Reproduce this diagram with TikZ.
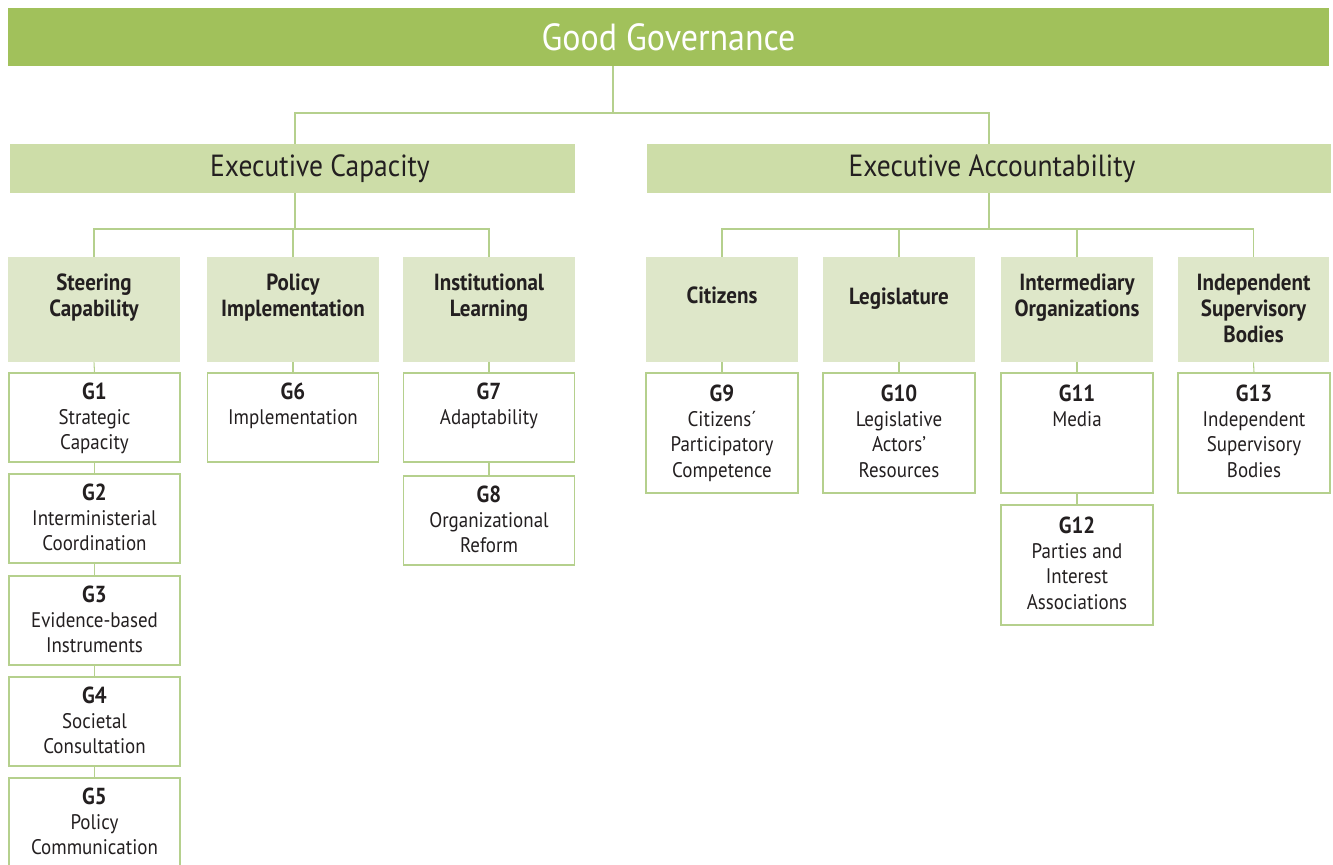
\documentclass[tikz,border=0pt]{standalone}
\usepackage{fontspec}
\setmainfont[FakeStretch=0.9]{PT Sans}
\usetikzlibrary{positioning}

\definecolor{topgreen}{HTML}{A1C15B}
\definecolor{dimgreen}{HTML}{CDDDA8}
\definecolor{areagreen}{HTML}{DEE7C9}
\definecolor{linegreen}{HTML}{B5D08D}
\definecolor{inkgray}{HTML}{231F20}

\newcommand{\gnum}[1]{\textbf{\fontsize{13.2}{14.4}\selectfont #1}}

\tikzset{
  headbar/.style={fill=topgreen, inner sep=0pt, minimum width=26.42cm, minimum height=1.16cm,
    text=white, font=\fontsize{21.5}{24}\selectfont},
  dimbar/.style={fill=dimgreen, inner sep=0pt, minimum height=0.98cm},
  dimtext/.style={inner sep=0pt, text=inkgray, font=\fontsize{17.4}{20}\selectfont},
  areabox/.style={fill=areagreen, inner sep=0pt, minimum height=2.1cm},
  areatext/.style={align=center, inner sep=0pt, text=inkgray,
    font=\bfseries\fontsize{13.3}{14.8}\selectfont},
  indbox/.style={draw=linegreen, line width=0.6pt, fill=white, inner sep=0pt},
  indtext/.style={align=center, inner sep=0pt, anchor=north, text=inkgray, font=\fontsize{12}{14.4}\selectfont},
  conn/.style={draw=linegreen, line width=0.6pt}
}

\begin{document}
\begin{tikzpicture}[x=0.02cm,y=-0.02cm]
\useasboundingbox (0,0) rectangle (1333,865);

% top level
\node[headbar] (gov) at (668.5,37) {Good Governance};

% the two dimensions
\node[dimbar, minimum width=11.3cm] (cap) at (292.5,168.5) {};
\node[dimtext] (captxt) at (320,168.5) {Executive Capacity};
\node[dimbar, minimum width=13.68cm] (acc) at (989,168.5) {};
\node[dimtext] (acctxt) at (992,168.5) {Executive Accountability};

% areas
\node[areabox, minimum width=3.44cm] (steer) at (94,309.5) {};
\node[areabox, minimum width=3.44cm] (impl) at (293,309.5) {};
\node[areabox, minimum width=3.44cm] (learn) at (489,309.5) {};
\node[areabox, minimum width=3.04cm] (citiz) at (722,309.5) {};
\node[areabox, minimum width=3.04cm] (legis) at (899,309.5) {};
\node[areabox, minimum width=3.04cm] (inter) at (1077,309.5) {};
\node[areabox, minimum width=3.04cm] (indep) at (1253.5,309.5) {};

\node[areatext] (steertxt) at ([yshift=-0.82cm]steer.north) {Steering\\Capability};
\node[areatext] (impltxt) at ([yshift=-0.82cm]impl.north) {Policy\\Implementation};
\node[areatext] (learntxt) at ([yshift=-0.82cm]learn.north) {Institutional\\Learning};
\node[areatext] (citiztxt) at ([yshift=-0.78cm]citiz.north) {Citizens};
\node[areatext] (legistxt) at ([yshift=-0.84cm]legis.north) {Legislature};
\node[areatext] (intertxt) at ([yshift=-0.82cm]inter.north) {Intermediary\\Organizations};
\node[areatext] (indeptxt) at ([yshift=-1.04cm]indep.north) {Independent\\Supervisory\\Bodies};

% indicator boxes, capacity side
\node[indbox, minimum width=3.42cm, minimum height=1.78cm] (g1) at (94.5,417.5) {};
\node[indbox, minimum width=3.42cm, minimum height=1.78cm] (g2) at (94.5,518.5) {};
\node[indbox, minimum width=3.42cm, minimum height=1.78cm] (g3) at (94.5,620.5) {};
\node[indbox, minimum width=3.42cm, minimum height=1.78cm] (g4) at (94.5,721.5) {};
\node[indbox, minimum width=3.42cm, minimum height=1.78cm] (g5) at (94.5,822.5) {};
\node[indbox, minimum width=3.42cm, minimum height=1.78cm] (g6) at (293,417.5) {};
\node[indbox, minimum width=3.42cm, minimum height=1.78cm] (g7) at (489,417.5) {};
\node[indbox, minimum width=3.42cm, minimum height=1.78cm] (g8) at (489,520.5) {};

% indicator boxes, accountability side
\node[indbox, minimum width=3.04cm, minimum height=2.4cm] (g9) at (722,433) {};
\node[indbox, minimum width=3.04cm, minimum height=2.4cm] (g10) at (899,433) {};
\node[indbox, minimum width=3.04cm, minimum height=2.4cm] (g11) at (1077,433) {};
\node[indbox, minimum width=3.04cm, minimum height=2.4cm] (g12) at (1077,565) {};
\node[indbox, minimum width=3.04cm, minimum height=2.4cm] (g13) at (1254,433) {};

\node[indtext] (g1txt) at ([yshift=-0.2cm]g1.north) {\gnum{G1}\\Strategic\\Capacity};
\node[indtext] (g2txt) at ([yshift=-0.2cm]g2.north) {\gnum{G2}\\Interministerial\\Coordination};
\node[indtext] (g3txt) at ([yshift=-0.2cm]g3.north) {\gnum{G3}\\Evidence-based\\Instruments};
\node[indtext] (g4txt) at ([yshift=-0.2cm]g4.north) {\gnum{G4}\\Societal\\Consultation};
\node[indtext] (g5txt) at ([yshift=-0.2cm]g5.north) {\gnum{G5}\\Policy\\Communication};
\node[indtext] (g6txt) at ([yshift=-0.2cm]g6.north) {\gnum{G6}\\Implementation};
\node[indtext] (g7txt) at ([yshift=-0.2cm]g7.north) {\gnum{G7}\\Adaptability};
\node[indtext] (g8txt) at ([yshift=-0.2cm]g8.north) {\gnum{G8}\\Organizational\\Reform};
\node[indtext] (g9txt) at ([yshift=-0.24cm]g9.north) {\gnum{G9}\\Citizens´\\Participatory\\Competence};
\node[indtext] (g10txt) at ([yshift=-0.24cm]g10.north) {\gnum{G10}\\Legislative\\Actors’\\Resources};
\node[indtext] (g11txt) at ([yshift=-0.24cm]g11.north) {\gnum{G11}\\Media};
\node[indtext] (g12txt) at ([yshift=-0.24cm]g12.north) {\gnum{G12}\\Parties and\\Interest\\Associations};
\node[indtext] (g13txt) at ([yshift=-0.24cm]g13.north) {\gnum{G13}\\Independent\\Supervisory\\Bodies};

% tree lines
\coordinate (govfork) at (613,113);
\coordinate (capfork) at (295,229);
\coordinate (accfork) at (989,229);
\draw[conn] (govfork |- gov.south) -- (govfork);
\draw[conn] (capfork |- cap.north) |- (govfork) -| (acc.north);
\draw[conn] (capfork |- cap.south) -- (capfork);
\draw[conn] (steer.north) |- (capfork) -| (learn.north);
\draw[conn] (impl.north) -- (impl.north |- capfork);
\draw[conn] (acc.south) -- (accfork);
\draw[conn] (citiz.north) |- (accfork) -| (indep.north);
\draw[conn] (legis.north) -- (legis.north |- accfork);
\draw[conn] (inter.north) -- (inter.north |- accfork);

% areas to indicators
\draw[conn] (steer.south) -- (g1.north);
\draw[conn] (g1.south) -- (g2.north);
\draw[conn] (g2.south) -- (g3.north);
\draw[conn] (g3.south) -- (g4.north);
\draw[conn] (g4.south) -- (g5.north);
\draw[conn] (impl.south) -- (g6.north);
\draw[conn] (learn.south) -- (g7.north);
\draw[conn] (g7.south) -- (g8.north);
\draw[conn] (citiz.south) -- (g9.north);
\draw[conn] (legis.south) -- (g10.north);
\draw[conn] (inter.south) -- (g11.north);
\draw[conn] (g11.south) -- (g12.north);
\draw[conn] (indep.south) -- (g13.north);
\end{tikzpicture}
\end{document}
